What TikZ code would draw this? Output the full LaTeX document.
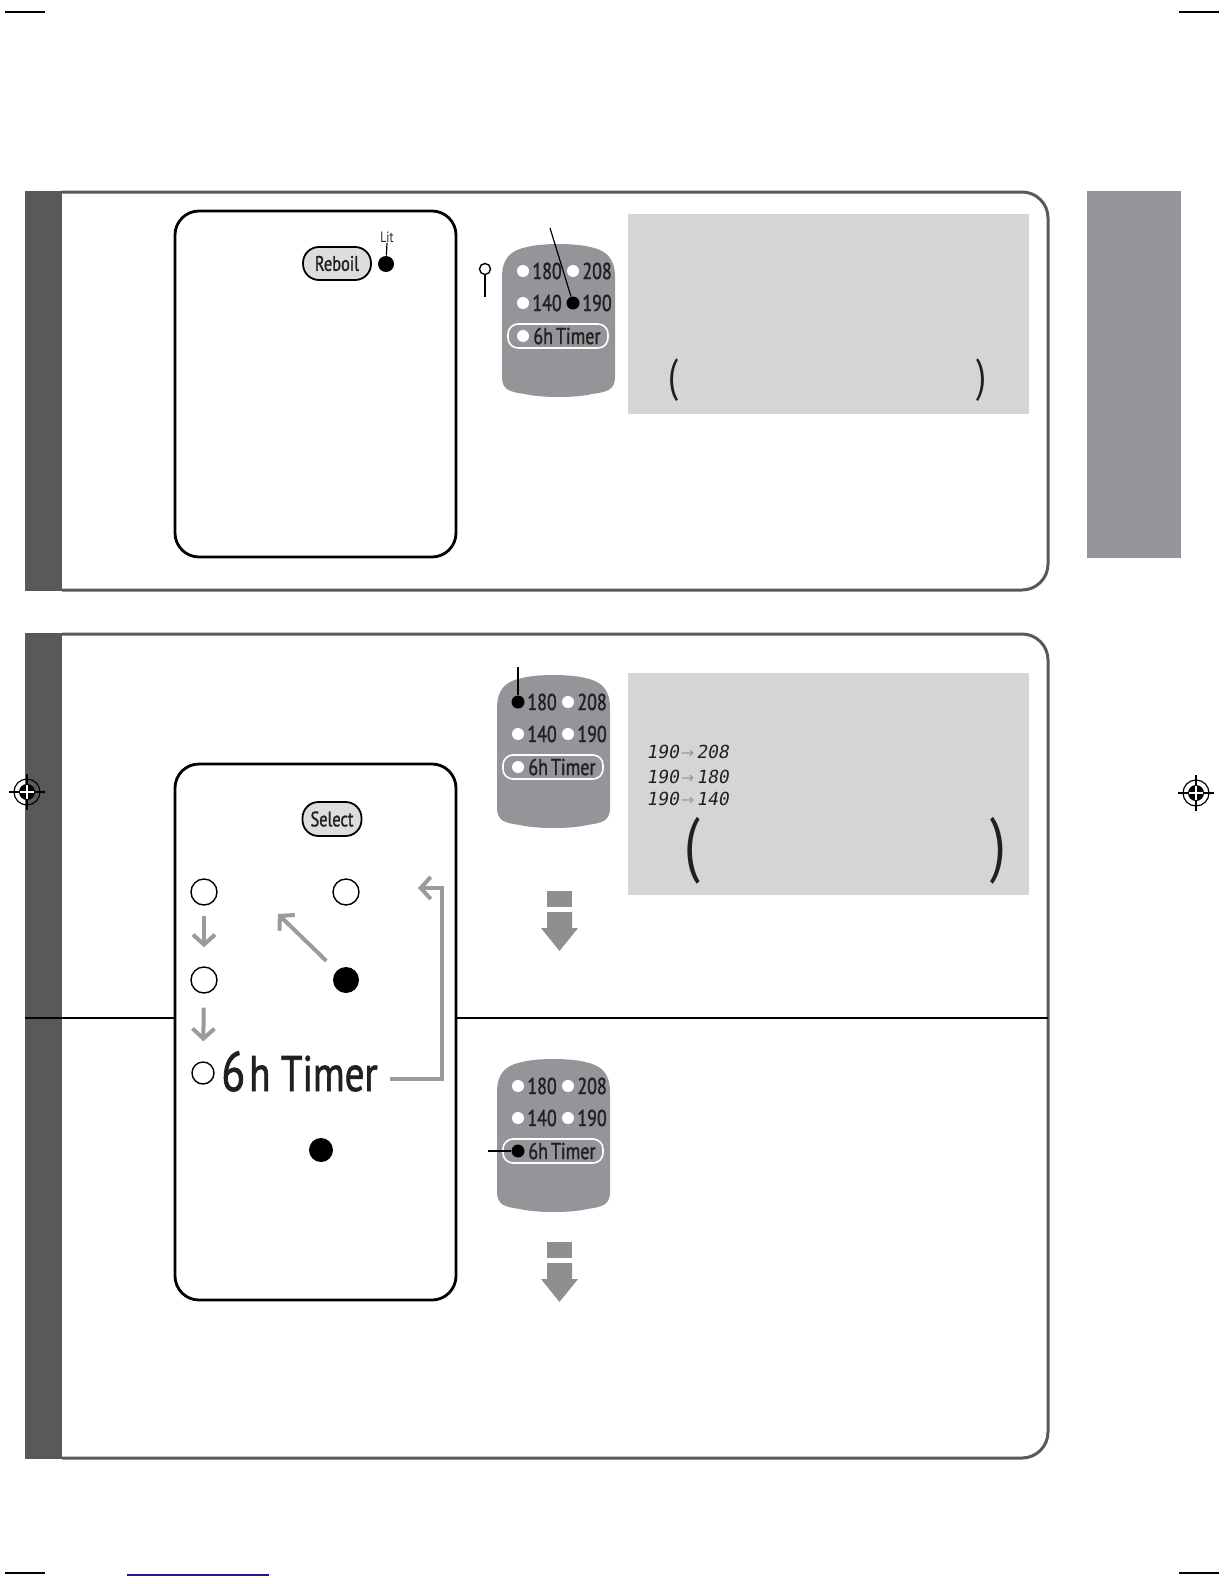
\documentclass[tikz,border=0pt]{standalone}
\usepackage{fontspec}
\setmainfont{PT Sans}
\newfontfamily\cond[FakeStretch=0.78]{PT Sans}
\newfontfamily\condb[FakeStretch=0.78,FakeBold=1.2]{PT Sans}
\newfontfamily\lcdfont[FakeSlant=0.18]{DejaVu Sans Mono}
\newfontfamily\arrowfont{DejaVu Sans}
\usetikzlibrary{arrows.meta}
\definecolor{barcol}{HTML}{58595B}
\definecolor{framecol}{HTML}{58595B}
\definecolor{tabcol}{HTML}{939598}
\definecolor{boxgray}{HTML}{D4D5D6}
\definecolor{ledgray}{HTML}{939598}
\definecolor{arrgray}{HTML}{9B9B9B}
\definecolor{fatgray}{HTML}{8E8F91}
\definecolor{btngray}{HTML}{DCDDDE}
\definecolor{navyline}{HTML}{1B1B8A}
\definecolor{textcol}{HTML}{231F20}
\newcommand\lcdarrow{{\arrowfont\color{arrgray}\fontsize{8}{9}\selectfont\hspace{1pt}→\hspace{1pt}}}
\tikzset{
  frame/.style={draw=framecol, line width=1.5pt, rounded corners=13pt},
  bar/.style={fill=barcol},
  innerbox/.style={draw=black, line width=1.4pt, fill=white, rounded corners=12pt},
  graybox/.style={fill=boxgray},
  leddot/.style={circle, fill=white, inner sep=0pt, minimum size=6pt},
  ledon/.style={circle, fill=black, inner sep=0pt, minimum size=6.5pt},
  ledlab/.style={anchor=west, inner sep=0pt, font=\condb\fontsize{11.5}{12}\selectfont, text=textcol},
  btn/.style={draw=black, line width=0.9pt, fill=btngray, rounded corners=8pt, inner sep=0pt, font=\condb\fontsize{10.5}{11}\selectfont, text=textcol},
  ring/.style={circle, draw=black, line width=0.7pt, fill=white, inner sep=0pt, minimum size=13pt},
  blackdot/.style={circle, fill=black, inner sep=0pt, minimum size=13pt},
  grayarr/.style={draw=arrgray, line width=2pt, -{Straight Barb[length=5pt,width=11pt]}},
  fatarrow/.style={fill=fatgray},
  thinline/.style={draw=black, line width=0.6pt},
  paren/.style={inner sep=0pt, text=textcol},
  lcd/.style={anchor=west, inner sep=0pt, font=\lcdfont\fontsize{9}{10}\selectfont, text=textcol},
  ledpanel/.pic={
    \fill[ledgray] (0,35) .. controls (0,15) and (10,8) .. (25,5) .. controls (40,1) and (73,1) .. (88,5) .. controls (103,8) and (113,15) .. (113,35) -- (113,135) .. controls (113,148) and (105,150) .. (90,152) .. controls (75,156) and (38,156) .. (23,152) .. controls (8,150) and (0,148) .. (0,135) -- cycle;
    \draw[white, line width=0.8pt, rounded corners=5pt] (6,82) rectangle (106,106);
    \node[leddot] (-d180) at (21,29) {};
    \node[ledlab] (-t180) at (30,29) {180};
    \node[leddot] (-d208) at (71,29) {};
    \node[ledlab] (-t208) at (80,29) {208};
    \node[leddot] (-d140) at (21,61) {};
    \node[ledlab] (-t140) at (30,61) {140};
    \node[leddot] (-d190) at (71,61) {};
    \node[ledlab] (-t190) at (80,61) {190};
    \node[leddot] (-dtim) at (21,94) {};
    \node[ledlab] (-ttim) at (31,94) {6h\hspace{1.5pt}Timer};
  },
  regmark/.pic={
    \draw[line width=0.6pt] (0,0) circle[radius=6.5pt];
    \fill (0,0) circle[radius=4pt];
    \draw[line width=0.6pt] (-18,0) -- (18,0) (0,-18) -- (0,18);
    \draw[white, line width=0.6pt] (-7,0) -- (7,0) (0,-7) -- (0,7);
  }
}
\begin{document}
\begin{tikzpicture}[x=0.5pt,y=-0.5pt]
\useasboundingbox (0,0) rectangle (1224,1584);

% crop marks
\draw[line width=0.6pt] (5,12) -- (45,12) (1179,12) -- (1219,12) (5,1573) -- (45,1573) (1179,1573) -- (1219,1573);
\draw[navyline, line width=1pt] (127,1575) -- (269,1575);

% right tab
\fill[tabcol] (1087,191) rectangle (1181,558);

% panel 1
\fill[bar] (25,191) rectangle (62,591);
\draw[frame] (62,192) -- (1048,192) -- (1048,590) -- (62,590);

% panel 2
\fill[bar] (25,633) rectangle (62,1459);
\draw[frame] (62,634) -- (1048,634) -- (1048,1458) -- (62,1458);
\draw[line width=0.6pt] (25,1018) -- (1048,1018);

% registration marks
\pic at (27,792) {regmark};
\pic at (1196,793) {regmark};

% inner box 1
\draw[innerbox] (175,211) rectangle (456,557);
\node[btn, minimum width=34pt, minimum height=16.5pt] (reboil) at (337,263.5) {Reboil};
\node[blackdot, minimum size=8pt] (litdot) at (386,264) {};
\node[inner sep=0pt, font=\cond\fontsize{7.5}{8}\selectfont, text=textcol] (lit) at (387,237) {Lit};
\draw[thinline] (lit.south) -- (litdot);

% LED panel 1
\pic (L1) at (502,242) {ledpanel};
\node[ledon] (L1on) at (L1-d190) {};
\coordinate (p1top) at (550,228);
\draw[thinline] (p1top) -- (L1on);
\node[ring, minimum size=5.5pt] (pin) at (485,269) {};
\coordinate (pinend) at (485,297);
\draw[thinline] (pin) -- (pinend);

% gray box 1
\fill[graybox] (628,214) rectangle (1029,414);
\node[paren, font=\cond\fontsize{23}{23}\selectfont] (po1) at (674,380) {(};
\node[paren, font=\cond\fontsize{23}{23}\selectfont] (pc1) at (982,380) {)};

% inner box 2
\draw[innerbox] (175,764) rectangle (456,1300);
\node[btn, minimum width=29.5pt, minimum height=17pt] (select) at (332,819) {Select};
\node[ring] (c1) at (204,892) {};
\node[ring] (c2) at (346,892) {};
\node[ring] (c3) at (204,980) {};
\node[blackdot] (cf) at (346,980) {};
\node[ring, minimum size=11pt] (c4) at (203,1073) {};
\node[anchor=base west, inner sep=0pt, text=textcol] (bigtimer) at (221,1091) {\condb\fontsize{28}{28}\selectfont 6\hspace{2pt}\fontsize{25}{25}\selectfont h Timer};
\node[blackdot, minimum size=12pt] (bigdot) at (321,1150) {};
\draw[grayarr, shorten <=5pt, shorten >=9.5pt] (c1) -- (c3);
\draw[grayarr, shorten <=7pt, shorten >=10pt] (c3) -- (c4);
\coordinate (diagend) at (278,914);
\draw[grayarr, shorten <=7pt] (cf) -- (diagend);
\coordinate (rettip) at (418,888);
\draw[grayarr] (bigtimer.base east) ++(12,-12) -- (442,1079) |- (rettip);

% LED panel 2
\pic (L2) at (497,673) {ledpanel};
\node[ledon] (L2on) at (L2-d180) {};
\coordinate (p2top) at (518,667);
\draw[thinline] (p2top) -- (L2on);

% gray box 2
\fill[graybox] (628,673) rectangle (1029,895);
\node[lcd] (lcd1) at (646,752) {190\lcdarrow 208};
\node[lcd] (lcd2) at (646,777) {190\lcdarrow 180};
\node[lcd] (lcd3) at (646,799) {190\lcdarrow 140};
\node[paren, font=\cond\fontsize{36}{36}\selectfont] (po2) at (692,851) {(};
\node[paren, font=\cond\fontsize{36}{36}\selectfont] (pc2) at (998,851) {)};

% fat arrow 1
\fill[fatarrow] (547,891) rectangle (572,907);
\fill[fatarrow] (547,912) -- (572,912) -- (572,928) -- (578,928) -- (559.5,951) -- (541,928) -- (547,928) -- cycle;

% LED panel 3
\pic (L3) at (497,1057) {ledpanel};
\node[ledon] (L3on) at (L3-dtim) {};
\coordinate (p3left) at (488,1151);
\draw[thinline] (p3left) -- (L3on);

% fat arrow 2
\fill[fatarrow] (547,1242) rectangle (572,1258);
\fill[fatarrow] (547,1263) -- (572,1263) -- (572,1279) -- (578,1279) -- (559.5,1302) -- (541,1279) -- (547,1279) -- cycle;
\end{tikzpicture}
\end{document}
